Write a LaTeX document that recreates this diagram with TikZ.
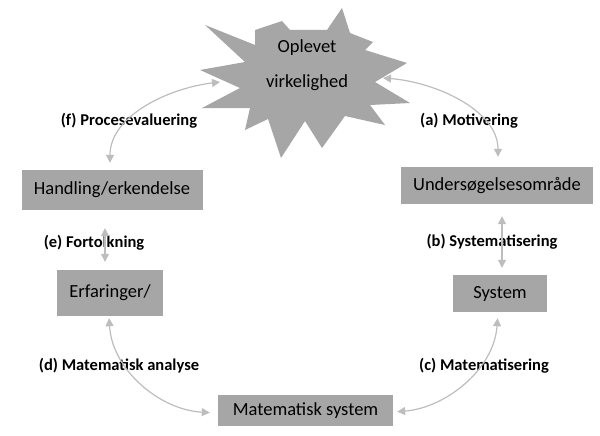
\documentclass[tikz,border=0pt]{standalone}
\usepackage{fontspec}
\setmainfont{Carlito}
\usetikzlibrary{arrows.meta}
\definecolor{boxgray}{HTML}{A6A6A6}
\definecolor{arrowgray}{HTML}{BDBDBD}

\begin{document}
\begin{tikzpicture}[x=1pt, y=-1pt, every node/.style={font=\fontsize{18.5}{22}\selectfont}, box/.style={fill=boxgray, inner sep=0pt}, lbl/.style={font=\fontsize{16.5}{19}\selectfont\bfseries}, arrow/.style={{Triangle[length=8pt,width=8pt]}-{Triangle[length=8pt,width=8pt]}, arrowgray, line width=1.2pt}]
      \useasboundingbox (0,0) rectangle (600,436);
      % the star
      \fill[boxgray] (255,30) -- (282,21) -- (290,30) -- (327,30) -- (342,8) -- (350,33) -- (373,42) -- (365,50) -- (407,63) -- (375,82) -- (410,103) -- (370,105) -- (385,125) -- (345,116) -- (322,148) -- (305,121) -- (281,158) -- (268,119) -- (245,130) -- (250,108) -- (202,108) -- (240,88) -- (200,70) -- (245,62) -- (205,25) -- (255,45) -- cycle;
      \node[align=center, font=\fontsize{18.5}{35}\selectfont] (real) at (307,65) {Oplevet\\virkelighed};
      \coordinate (starL) at (220,82);
      \coordinate (starR) at (383,78);
      % boxes
      \node[box, minimum width=181pt, minimum height=40pt] (handl) at (112,190) {Handling/erkendelse};
      \node[box, minimum width=106pt, minimum height=46pt] (erf) at (110,293) {Erfaringer/};
      \node[box, minimum width=192pt, minimum height=37pt] (unders) at (497,185.5) {Undersøgelsesområde};
      \node[box, minimum width=94pt, minimum height=37pt] (sys) at (500,293.5) {System};
      \node[box, minimum width=175pt, minimum height=31pt] (mat) at (305.5,410.5) {Matematisk system};
      % labels
      \node[lbl] (lf) at (129,121) {(f) Procesevaluering};
      \node[lbl] (la) at (469,121) {(a) Motivering};
      \node[lbl] (le) at (94,243) {(e) Fortolkning};
      \node[lbl] (lb) at (492,242) {(b) Systematisering};
      \node[lbl] (ld) at (119,366) {(d) Matematisk analyse};
      \node[lbl] (lc) at (484,366) {(c) Matematisering};
      % connectors
      \draw[arrow, shorten >=7pt] (starL) .. controls (170,88) and (110,115) .. ([xshift=-2pt]handl.north);
      \draw[arrow, shorten >=10pt] (starR) .. controls (435,82) and (498,110) .. ([xshift=1pt]unders.north);
      \draw[arrow, shorten <=18pt, shorten >=8pt] ([xshift=-7pt]handl.south) -- ([xshift=-5pt]erf.north);
      \draw[arrow, shorten <=12pt, shorten >=7pt] ([xshift=5pt]unders.south) -- ([xshift=2pt]sys.north);
      \draw[arrow, shorten <=2pt, shorten >=8pt] ([xshift=-1pt]erf.south) .. controls (112,370) and (160,410) .. ([yshift=-2.5pt]mat.west);
      \draw[arrow, shorten <=6pt, shorten >=4pt] ([xshift=-2pt]sys.south) .. controls (494,370) and (445,408) .. ([yshift=-1.5pt]mat.east);
    \end{tikzpicture}
\end{document}
